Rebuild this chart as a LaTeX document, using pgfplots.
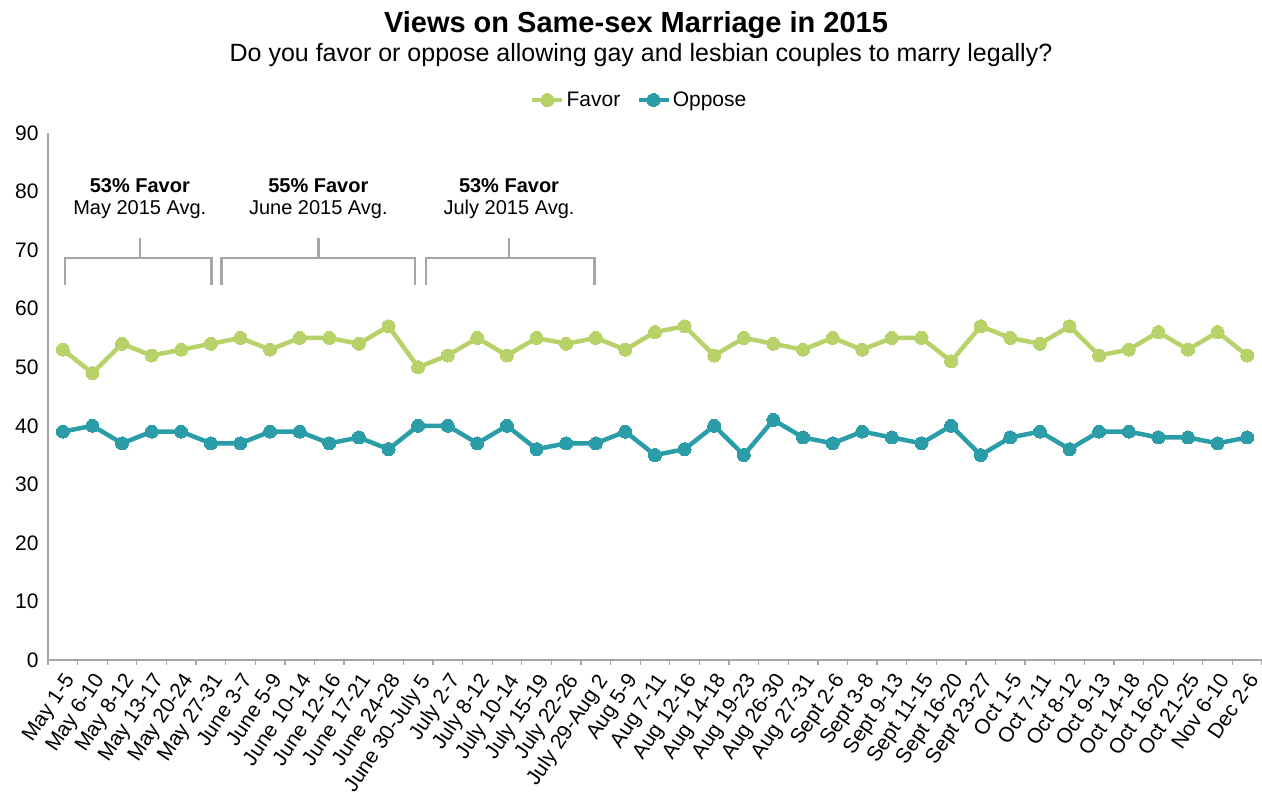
\documentclass[border=0pt]{standalone}
\usepackage{pgfplots}
\pgfplotsset{compat=1.18}
\usepackage{fontspec}
\setmainfont{Liberation Sans}
\definecolor{favorc}{HTML}{B8D26A}
\definecolor{opposec}{HTML}{2A9DA8}
\definecolor{axgray}{HTML}{A6A6A6}
\begin{document}
\begin{tikzpicture}
\begin{axis}[
  name=ax, scale only axis, width=1214pt, height=527pt,
  xmin=-0.5, xmax=40.5, ymin=0, ymax=90,
  axis x line*=bottom, axis y line*=left,
  axis line style={-, draw=axgray, line width=1.3pt},
  ytick={0,10,...,90},
  xtick={0,...,40},
  xticklabels={May 1-5, May 6-10, May 8-12, May 13-17, May 20-24, May 27-31, June 3-7, June 5-9, June 10-14, June 12-16, June 17-21, June 24-28, June 30-July 5, July 2-7, July 8-12, July 10-14, July 15-19, July 22-26, July 29-Aug 2, Aug 5-9, Aug 7-11, Aug 12-16, Aug 14-18, Aug 19-23, Aug 26-30, Aug 27-31, Sept 2-6, Sept 3-8, Sept 9-13, Sept 11-15, Sept 16-20, Sept 23-27, Oct 1-5, Oct 7-11, Oct 8-12, Oct 9-13, Oct 14-18, Oct 16-20, Oct 21-25, Nov 6-10, Dec 2-6},
  minor xtick={-0.5,0.5,...,40.5},
  major tick length=0pt, minor tick length=5pt,
  xtick align=outside,
  minor tick style={draw=axgray, line width=1.3pt},
  tick label style={font=\fontsize{21}{24}\selectfont},
  /pgf/number format/assume math mode=true,
  x tick label style={rotate=56, anchor=north east, inner sep=0.5pt, yshift=-6pt, xshift=-9pt, font=\fontsize{21}{24}\selectfont},
  yticklabel style={xshift=-6pt},
  legend style={at={(0.487,1)}, anchor=center, yshift=33pt, draw=none, fill=none,
    legend columns=2, font=\fontsize{21}{24}\selectfont,
    /tikz/every even column/.append style={column sep=14pt}},
  legend image code/.code={\draw[mark repeat=2,mark phase=2,#1] plot coordinates {(0pt,0pt) (15pt,0pt) (30pt,0pt)};},
]
\addplot[favorc, line width=4.5pt, mark=*, mark size=6.5pt, mark options={solid, fill=favorc, draw=favorc, line width=0pt}] coordinates {
(0,53)(1,49)(2,54)(3,52)(4,53)(5,54)(6,55)(7,53)(8,55)(9,55)(10,54)(11,57)(12,50)(13,52)(14,55)(15,52)(16,55)(17,54)(18,55)(19,53)(20,56)(21,57)(22,52)(23,55)(24,54)(25,53)(26,55)(27,53)(28,55)(29,55)(30,51)(31,57)(32,55)(33,54)(34,57)(35,52)(36,53)(37,56)(38,53)(39,56)(40,52)};
\addlegendentry{Favor}
\addplot[opposec, line width=4.5pt, mark=*, mark size=6.5pt, mark options={solid, fill=opposec, draw=opposec, line width=0pt}] coordinates {
(0,39)(1,40)(2,37)(3,39)(4,39)(5,37)(6,37)(7,39)(8,39)(9,37)(10,38)(11,36)(12,40)(13,40)(14,37)(15,40)(16,36)(17,37)(18,37)(19,39)(20,35)(21,36)(22,40)(23,35)(24,41)(25,38)(26,37)(27,39)(28,38)(29,37)(30,40)(31,35)(32,38)(33,39)(34,36)(35,39)(36,39)(37,38)(38,38)(39,37)(40,38)};
\addlegendentry{Oppose}
% brackets
\draw[axgray, line width=2.5pt] (axis cs:0.07,64) -- (axis cs:0.07,68.65) -- (axis cs:5.03,68.65) -- (axis cs:5.03,64);
\draw[axgray, line width=2.5pt] (axis cs:2.6,68.65) -- (axis cs:2.6,72.1);
\draw[axgray, line width=2.5pt] (axis cs:5.36,64) -- (axis cs:5.36,68.65) -- (axis cs:11.9,68.65) -- (axis cs:11.9,64);
\draw[axgray, line width=2.5pt] (axis cs:8.63,68.65) -- (axis cs:8.63,72.1);
\draw[axgray, line width=2.5pt] (axis cs:12.27,64) -- (axis cs:12.27,68.65) -- (axis cs:17.96,68.65) -- (axis cs:17.96,64);
\draw[axgray, line width=2.5pt] (axis cs:15.07,68.65) -- (axis cs:15.07,72.1);
\node[font=\bfseries\fontsize{20}{24}\selectfont] at (axis cs:2.6,81) {53\% Favor};
\node[font=\fontsize{20}{24}\selectfont] at (axis cs:2.6,77) {May 2015 Avg.};
\node[font=\bfseries\fontsize{20}{24}\selectfont] at (axis cs:8.63,81) {55\% Favor};
\node[font=\fontsize{20}{24}\selectfont] at (axis cs:8.63,77) {June 2015 Avg.};
\node[font=\bfseries\fontsize{20}{24}\selectfont] at (axis cs:15.07,81) {53\% Favor};
\node[font=\fontsize{20}{24}\selectfont] at (axis cs:15.07,77) {July 2015 Avg.};
\end{axis}
\node[anchor=base, font=\bfseries\fontsize{29}{34}\selectfont] at ([xshift=-19pt,yshift=100pt]ax.north) {Views on Same-sex Marriage in 2015};
\node[anchor=base, font=\fontsize{25}{30}\selectfont] at ([xshift=-14pt,yshift=71pt]ax.north) {Do you favor or oppose allowing gay and lesbian couples to marry legally?};
\pgfresetboundingbox
\path[use as bounding box] ([xshift=-48pt,yshift=-137pt]ax.south west) rectangle ([xshift=0pt,yshift=133pt]ax.north east);
\end{tikzpicture}
\end{document}
